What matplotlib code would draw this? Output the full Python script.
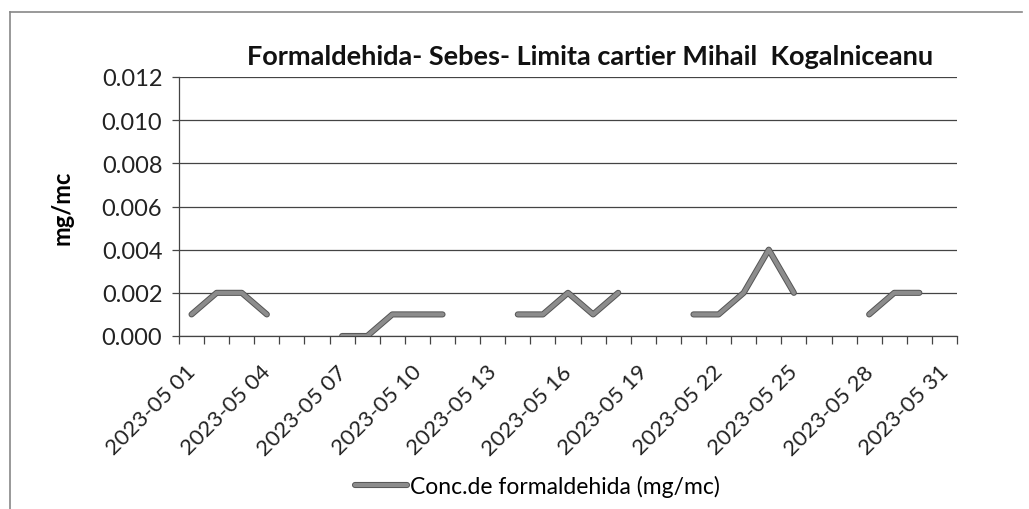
import numpy as np
import matplotlib
matplotlib.use("Agg")
import matplotlib.pyplot as plt
import matplotlib.patheffects as pe
import matplotlib.transforms as mtransforms

# days of May 2023, value in mg/mc (None = no measurement)
days = list(range(1, 32))
values = [0.001, 0.002, 0.002, 0.001, None, None, 0.000, 0.000, 0.001, 0.001,
          0.001, None, None, 0.001, 0.001, 0.002, 0.001, 0.002, None, None,
          0.001, 0.001, 0.002, 0.004, 0.002, None, None, 0.001, 0.002, 0.002,
          None]
tick_labels = ["2023-05 %02d" % d for d in days]
y_ticks = [0.000, 0.002, 0.004, 0.006, 0.008, 0.010, 0.012]

plt.rcParams['font.family'] = ['Lato', 'DejaVu Sans']

fig = plt.figure(figsize=(10.29, 5.10), dpi=100)
ax = fig.add_axes([179 / 1029, 1 - 337 / 510, (957 - 179) / 1029, (337 - 78) / 510])

x = np.arange(len(days))
y = np.array([np.nan if v is None else v for v in values])
ax.plot(x, y, color='#8c8c8c', lw=3.0, solid_capstyle='round',
        path_effects=[pe.Stroke(linewidth=4.4, foreground='#555555'), pe.Normal()],
        label='Conc.de formaldehida (mg/mc)', zorder=3)

ax.set_xlim(-0.5, len(days) - 0.5)
ax.set_ylim(0, 0.012)
ax.set_yticks(y_ticks)
ax.set_yticklabels(["%.3f" % t for t in y_ticks], fontsize=17, color='#222222')
ax.yaxis.grid(True, color='#444444', lw=0.9)
ax.set_axisbelow(True)

# tick marks between categories, labels every 3rd day
ax.set_xticks(np.arange(len(days) + 1) - 0.5, minor=True)
ax.set_xticks(x[::3])
ax.set_xticklabels(tick_labels[::3], rotation=45, ha='right', rotation_mode='anchor',
                   fontsize=16, color='#222222')
ax.tick_params(axis='x', which='major', length=0, pad=14)
ax.tick_params(axis='x', which='minor', length=5.5, width=0.9, color='#444444')
ax.tick_params(axis='y', length=5, width=0.9, color='#444444', pad=7)

# nudge the slanted labels down-left like in the original
shift = mtransforms.ScaledTranslation(-6 / 100, -6 / 100, fig.dpi_scale_trans)
for lbl in ax.get_xticklabels():
    lbl.set_transform(lbl.get_transform() + shift)

for s in ['top', 'right']:
    ax.spines[s].set_visible(False)
for s in ['left', 'bottom']:
    ax.spines[s].set_color('#444444')
    ax.spines[s].set_linewidth(0.9)

ax.set_ylabel('mg/mc', fontsize=17, fontweight='bold', labelpad=20)
fig.text(590 / 1029, 1 - 57 / 510, 'Formaldehida- Sebes- Limita cartier Mihail  Kogalniceanu',
         fontsize=19.5, fontweight='bold', ha='center', va='center', color='#111111')

fig.legend(loc='center', bbox_to_anchor=(537 / 1029, 1 - 487 / 510), frameon=False,
           fontsize=16.5, handlelength=2.3, handletextpad=0.1)

# chart area border (top and left visible in the scan)
fig.add_artist(plt.Line2D([10 / 1029, 1022 / 1029], [1 - 13 / 510, 1 - 13 / 510],
                          color='#888888', lw=1.2))
fig.add_artist(plt.Line2D([10 / 1029, 10 / 1029], [0, 1 - 13 / 510],
                          color='#888888', lw=1.2))

fig.savefig('out.png', dpi=100)
